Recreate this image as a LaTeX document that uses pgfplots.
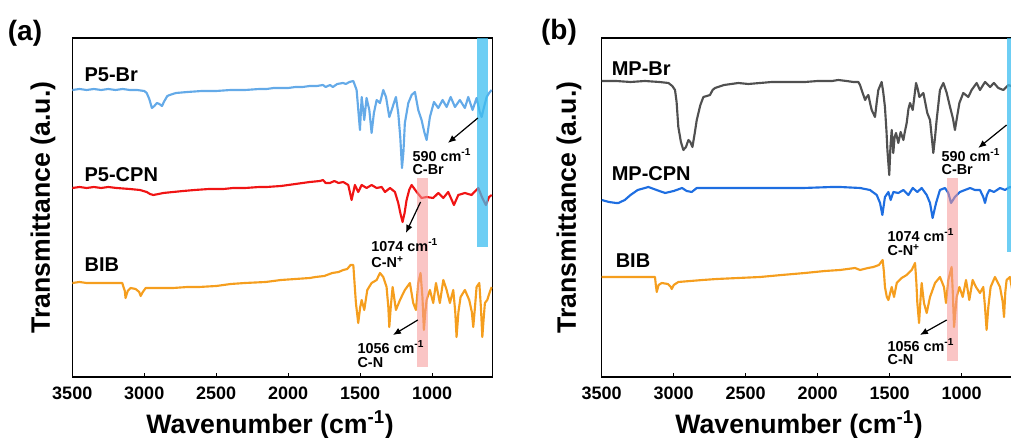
\documentclass[border=0pt]{standalone}
\usepackage{fontspec}
\setmainfont{Liberation Sans}
\usepackage{pgfplots}
\pgfplotsset{compat=1.18}
\usetikzlibrary{arrows.meta}
\definecolor{cBr}{RGB}{100,170,232}
\definecolor{cCPN}{RGB}{240,20,20}
\definecolor{cBIB}{RGB}{245,158,30}
\definecolor{cMPBr}{RGB}{80,80,80}
\definecolor{cMPCPN}{RGB}{30,110,225}
\definecolor{bandblue}{RGB}{60,190,240}
\definecolor{bandpink}{RGB}{245,150,150}
\pgfplotsset{ftir/.style={
  scale only axis, width=315pt, height=254.25pt,
  x dir=reverse, xmin=583, xmax=3500, ymin=0, ymax=339,
  xtick={1000,1500,...,3500}, ytick=\empty,
  tick align=inside, xtick pos=bottom, major tick length=3pt,
  axis line style={line width=1pt}, tick style={line width=1pt, black},
  /pgf/number format/assume math mode=true,
  /pgf/number format/1000 sep={},
  ticklabel style={font=\fontsize{13.5}{15}\selectfont\bfseries},
  xticklabel style={yshift=-4pt},
  xlabel={Wavenumber (cm\textsuperscript{-1})},
  ylabel={Transmittance (a.u.)},
  label style={font=\fontsize{20}{24}\selectfont\bfseries},
  xlabel style={at={(axis description cs:0.471,-0.14)}, anchor=center},
  ylabel style={at={(axis description cs:-0.07,0.5)}, anchor=center},
  every axis plot/.append style={line width=1.6pt, line join=round},
}}
\tikzset{slab/.style={anchor=west, font=\fontsize{15}{18}\selectfont\bfseries},
  ann/.style={anchor=west, font=\fontsize{10.8}{12}\selectfont\bfseries},
  arr/.style={-{Latex[length=6pt,width=5pt]}, line width=0.9pt, black}}
\begin{document}
\begin{tikzpicture}
\useasboundingbox (0,0) rectangle (758.25pt,328.5pt);
\clip (0,0) rectangle (758.25pt,328.5pt);
% ---------------- panel (a)
\begin{axis}[ftir, at={(54.2pt,45.75pt)}, anchor=south west]
\addplot[cBr] coordinates {(3500,287)(3450,288)(3400,287)(3350,288)(3300,287)(3250,288)(3200,287)(3150,288)(3100,287)(3050,287)(3000,286)(2983,284)(2965,278)(2947,269)(2930,271)(2912,274)(2895,273)(2877,271)(2860,276)(2840,281)(2823,282)(2780,284)(2700,285)(2600,286)(2500,286)(2400,287)(2300,287)(2200,288)(2150,288)(2100,289)(2000,289)(1950,290)(1900,290)(1850,291)(1800,291)(1759,292)(1740,290)(1710,292)(1690,290)(1660,293)(1620,294)(1600,293)(1575,295)(1548,296)(1525,287)(1502,247)(1490,280)(1472,257)(1456,279)(1437,267)(1421,244)(1405,264)(1386,277)(1363,274)(1340,287)(1321,280)(1298,260)(1275,270)(1252,280)(1236,264)(1222,240)(1210,209)(1200,225)(1190,254)(1166,274)(1143,282)(1120,285)(1097,267)(1074,257)(1055,245)(1039,237)(1028,248)(1016,260)(988,275)(958,269)(928,277)(900,270)(872,280)(842,270)(808,277)(773,269)(750,280)(720,267)(692,279)(670,265)(657,260)(640,270)(622,280)(600,285)(587,287)};
\addplot[cCPN] coordinates {(3500,189)(3450,190)(3400,189)(3350,190)(3300,189)(3250,190)(3192,189)(3100,188)(3030,187)(2983,185)(2960,183)(2937,182)(2900,183)(2868,184)(2800,185)(2729,186)(2650,187)(2550,188)(2450,188)(2382,189)(2300,189)(2200,190)(2150,190)(2050,191)(1950,193)(1850,195)(1780,196)(1759,197)(1740,194)(1710,194)(1680,196)(1650,194)(1618,195)(1583,192)(1560,177)(1537,192)(1514,185)(1490,192)(1456,189)(1421,192)(1386,189)(1351,190)(1328,185)(1293,189)(1259,185)(1236,174)(1220,163)(1206,155)(1192,164)(1178,177)(1160,187)(1143,192)(1108,185)(1074,179)(1039,180)(993,179)(958,184)(923,179)(889,185)(849,172)(819,182)(773,184)(727,182)(680,189)(655,180)(627,172)(605,180)(587,182)};
\addplot[cBIB] coordinates {(3500,94)(3450,95)(3400,94)(3300,94)(3200,94)(3153,94)(3135,86)(3130,79)(3115,86)(3095,89)(3060,88)(3035,85)(3025,81)(3010,85)(2990,89)(2900,89)(2800,89)(2700,90)(2620,90)(2500,91)(2400,93)(2300,94)(2157,95)(2050,97)(1950,98)(1850,99)(1810,100)(1750,101)(1694,104)(1650,105)(1618,107)(1590,108)(1567,112)(1548,112)(1540,95)(1530,74)(1514,54)(1500,70)(1490,77)(1472,67)(1451,87)(1421,94)(1386,97)(1363,104)(1340,100)(1317,90)(1305,70)(1298,50)(1288,70)(1275,90)(1252,67)(1224,77)(1190,87)(1155,94)(1132,74)(1113,67)(1097,94)(1081,104)(1068,80)(1058,47)(1048,65)(1039,77)(1016,87)(993,74)(974,94)(947,74)(923,97)(900,87)(877,74)(854,87)(840,65)(831,40)(818,65)(803,80)(773,87)(743,77)(725,65)(715,50)(703,70)(692,90)(673,94)(662,70)(652,40)(642,60)(634,74)(618,77)(600,85)(587,90)};
\fill[bandblue, opacity=0.75] (axis cs:613,130) rectangle (axis cs:690,339);
\fill[bandpink, opacity=0.55] (axis cs:1030,10) rectangle (axis cs:1106,199);
\node[slab] at (axis cs:3447,302) {P5-Br};
\node[slab] at (axis cs:3447,202) {P5-CPN};
\node[slab] at (axis cs:3447,112) {BIB};
\node[ann] at (axis cs:1169,222) {590 cm\textsuperscript{-1}};
\node[ann] at (axis cs:1169,207) {C-Br};
\draw[arr] (axis cs:683,259) -- (axis cs:891,234);
\node[ann] at (axis cs:1455,132) {1074 cm\textsuperscript{-1}};
\node[ann] at (axis cs:1455,115) {C-N\textsuperscript{+}};
\draw[arr] (axis cs:1081,175) -- (axis cs:1183,144);
\node[ann] at (axis cs:1551,30) {1056 cm\textsuperscript{-1}};
\node[ann] at (axis cs:1551,14) {C-N};
\draw[arr] (axis cs:1100,57) -- (axis cs:1273,42);
\end{axis}
% ---------------- panel (b)
\begin{axis}[ftir, at={(451.3pt,45.75pt)}, anchor=south west,
  xlabel style={at={(axis description cs:0.47,-0.14)}},
  ylabel style={at={(axis description cs:-0.078,0.5)}}]
\addplot[cMPBr] coordinates {(3500,296)(3400,296)(3300,295)(3200,296)(3100,295)(3037,294)(3010,291)(2991,287)(2980,275)(2968,250)(2950,235)(2933,227)(2915,230)(2898,237)(2885,235)(2870,230)(2855,243)(2840,257)(2815,272)(2794,280)(2770,281)(2748,282)(2730,287)(2713,289)(2650,292)(2551,294)(2482,293)(2400,294)(2319,295)(2200,295)(2088,295)(2000,296)(1900,296)(1857,297)(1800,296)(1752,295)(1718,295)(1706,292)(1690,285)(1671,277)(1660,280)(1648,282)(1635,273)(1625,267)(1602,260)(1590,275)(1579,287)(1556,295)(1545,285)(1533,270)(1522,245)(1516,227)(1503,202)(1495,230)(1486,247)(1475,224)(1466,240)(1456,244)(1440,234)(1424,245)(1405,237)(1395,245)(1382,254)(1370,268)(1359,274)(1340,267)(1317,294)(1305,288)(1294,280)(1266,284)(1239,264)(1220,257)(1208,240)(1197,224)(1185,240)(1174,257)(1151,287)(1127,294)(1104,284)(1081,270)(1060,258)(1047,247)(1030,262)(1016,274)(989,284)(954,280)(931,287)(896,294)(873,287)(838,295)(803,290)(776,294)(746,289)(711,287)(676,292)(640,290)(600,292)(583,292)};
\addplot[cMPCPN] coordinates {(3500,177)(3450,175)(3400,174)(3384,174)(3340,177)(3300,182)(3250,187)(3176,190)(3100,186)(3060,184)(3000,186)(2942,189)(2910,186)(2875,185)(2840,189)(2800,189)(2700,189)(2500,189)(2300,189)(2100,189)(1900,190)(1845,190)(1706,189)(1637,187)(1590,182)(1567,174)(1551,162)(1533,180)(1509,185)(1493,177)(1475,185)(1440,184)(1405,187)(1370,182)(1340,189)(1308,185)(1278,189)(1243,182)(1220,174)(1202,159)(1178,174)(1151,187)(1116,189)(1093,184)(1074,174)(1047,180)(1012,185)(977,187)(942,189)(908,187)(873,187)(850,180)(838,174)(825,182)(808,187)(776,185)(734,189)(699,187)(665,190)(620,188)(583,187)};
\addplot[cBIB] coordinates {(3500,100)(3400,100)(3300,100)(3200,100)(3130,100)(3125,93)(3118,85)(3105,92)(3083,94)(3040,93)(3020,90)(3014,88)(3000,92)(2968,95)(2800,97)(2700,98)(2551,99)(2400,100)(2250,102)(2088,104)(1950,106)(1845,107)(1741,109)(1706,107)(1650,109)(1613,110)(1575,112)(1549,117)(1540,105)(1533,90)(1520,80)(1509,77)(1495,85)(1486,90)(1470,80)(1451,94)(1417,99)(1382,102)(1347,107)(1324,114)(1315,95)(1308,74)(1296,54)(1285,80)(1278,94)(1262,74)(1243,64)(1220,80)(1185,94)(1151,100)(1123,90)(1109,74)(1093,97)(1070,110)(1062,85)(1053,50)(1044,65)(1035,80)(1016,90)(993,80)(970,97)(947,77)(924,97)(901,90)(873,84)(850,90)(838,70)(827,47)(815,70)(799,90)(769,100)(734,90)(715,75)(706,60)(697,85)(688,97)(665,100)(640,80)(620,70)(600,90)(583,92)};
\fill[bandblue, opacity=0.75] (axis cs:583,125) rectangle (axis cs:685,339);
\fill[bandpink, opacity=0.55] (axis cs:1024,16) rectangle (axis cs:1104,199);
\node[slab] at (axis cs:3463,308) {MP-Br};
\node[slab] at (axis cs:3463,203) {MP-CPN};
\node[slab] at (axis cs:3435,116) {BIB};
\node[ann] at (axis cs:1172,222) {590 cm\textsuperscript{-1}};
\node[ann] at (axis cs:1172,207) {C-Br};
\draw[arr] (axis cs:688,252) -- (axis cs:885,229);
\node[ann] at (axis cs:1547,142) {1074 cm\textsuperscript{-1}};
\node[ann] at (axis cs:1547,127) {C-N\textsuperscript{+}};
\node[ann] at (axis cs:1547,32) {1056 cm\textsuperscript{-1}};
\node[ann] at (axis cs:1547,17) {C-N};
\draw[arr] (axis cs:1104,57) -- (axis cs:1290,42);
\end{axis}
\node[font=\fontsize{21}{25}\selectfont\bfseries] at (18.75pt,303.75pt) {(a)};
\node[font=\fontsize{21}{25}\selectfont\bfseries] at (419.25pt,304.5pt) {(b)};
\end{tikzpicture}
\end{document}
